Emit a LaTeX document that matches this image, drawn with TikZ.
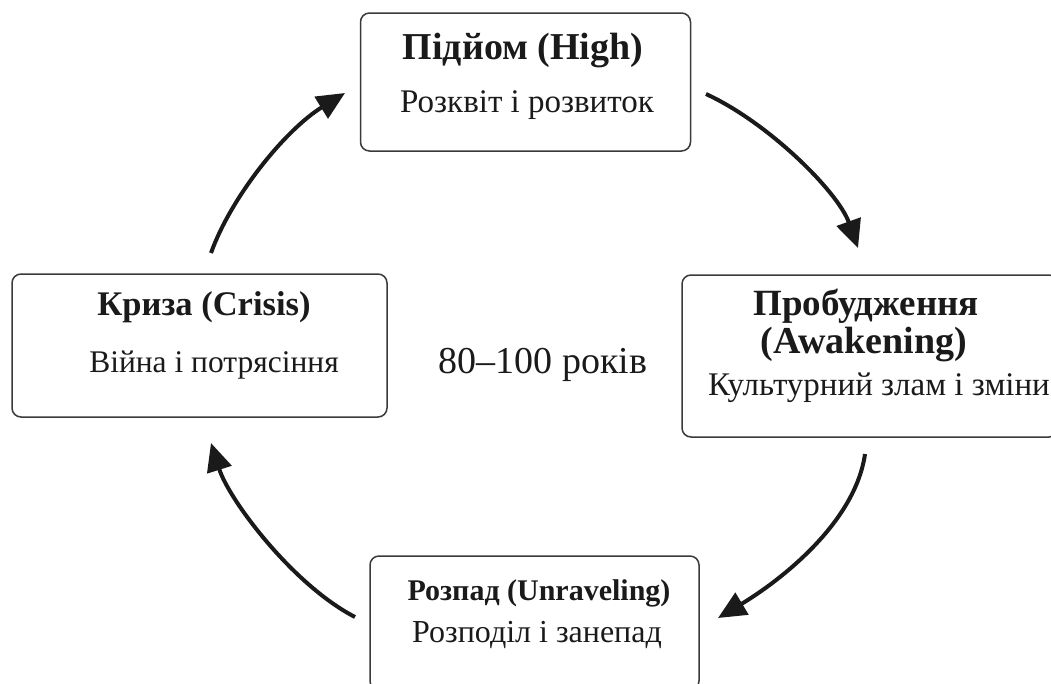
\documentclass[tikz,border=0pt]{standalone}
\usepackage{fontspec}
\setmainfont{Liberation Serif}
\usetikzlibrary{arrows.meta}
\definecolor{ink}{HTML}{1A1A1A}
\definecolor{frame}{HTML}{3A3A3A}
\tikzset{
  stagebox/.style={draw=frame, line width=1.5pt, rounded corners=9pt, fill=white},
  ttl/.style={anchor=base, text=ink, font=\bfseries\fontsize{#1}{40}\selectfont, inner sep=0pt},
  ttl/.default=37,
  sub/.style={anchor=base, text=ink, font=\fontsize{#1}{36}\selectfont, inner sep=0pt},
  sub/.default=32,
  cyc/.style={draw=ink, line width=4pt, -{Triangle[length=28pt,width=25pt]}},
}
\begin{document}
\begin{tikzpicture}[x=1pt,y=-1pt]
\useasboundingbox (0,0) rectangle (1051,683);
\clip (0,0) rectangle (1051,683);
% boxes
\node[stagebox, minimum width=330pt, minimum height=138pt] (high) at (525.5,82) {};
\node[stagebox, minimum width=376pt, minimum height=162pt] (awak) at (870,356) {};
\node[stagebox, minimum width=375pt, minimum height=143pt] (crisis) at (199.5,345.5) {};
\node[stagebox, minimum width=329pt, minimum height=134pt] (unrav) at (534.5,623) {};
% texts
\node[ttl=38] (hight) at (523,59) {Підйом (High)};
\node[sub=33] (highs) at (527,112) {Розквіт і розвиток};
\node[ttl=37] (awakt1) at (866,315) {Пробудження};
\node[ttl=38] (awakt2) at (864,353) {(Awakening)};
\node[sub=33] (awaks) at (879,395) {Культурний злам і зміни};
\node[ttl=34.5] (crisist) at (204,315) {Криза (Crisis)};
\node[sub=31.5] (crisiss) at (214,372) {Війна і потрясіння};
\node[ttl=30] (unravt) at (539,600) {Розпад (Unraveling)};
\node[sub=32] (unravs) at (537,642) {Розподіл і занепад};
\node[sub=38] (period) at (543,373) {80–100 років};
% arrow ends
\coordinate (c1) at (211,253);
\coordinate (h1) at (345,93);
\coordinate (h2) at (706,94);
\coordinate (a1) at (858,248);
\coordinate (a2) at (865,454);
\coordinate (u1) at (718,618);
\coordinate (u2) at (355,617);
\coordinate (c2) at (211,443);
\draw[cyc] (c1) .. controls (231,197) and (285,130) .. (h1);
\draw[cyc] (h2) .. controls (769,123) and (838,192) .. (a1);
\draw[cyc] (a2) .. controls (855,524) and (778,582) .. (u1);
\draw[cyc] (u2) .. controls (293,585) and (229,500) .. (c2);
\end{tikzpicture}
\end{document}
